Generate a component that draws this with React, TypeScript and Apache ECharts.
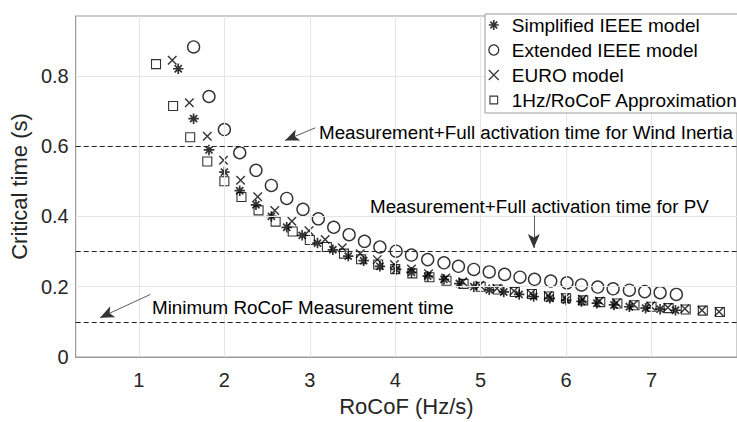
import React, { useEffect, useRef } from 'react';
import * as echarts from 'echarts';

const xTicks = [1, 2, 3, 4, 5, 6, 7];
const yTicks = [0, 0.2, 0.4, 0.6, 0.8];
const refLines = [0.6, 0.3, 0.1];

const seriesNames = [
  'Simplified IEEE model',
  'Extended IEEE model',
  'EURO model',
  '1Hz/RoCoF Approximation',
];

const simplifiedX = [1.46, 1.64, 1.82, 2.0, 2.18, 2.37, 2.55, 2.73, 2.91, 3.09, 3.27, 3.45, 3.63, 3.82, 4.01, 4.19, 4.38, 4.57, 4.75, 4.92, 5.1, 5.27, 5.45, 5.62, 5.81, 6.0, 6.18, 6.36, 6.56, 6.74, 6.93, 7.1, 7.28];
const simplifiedY = [0.82, 0.678, 0.589, 0.526, 0.473, 0.433, 0.4, 0.369, 0.346, 0.324, 0.305, 0.287, 0.274, 0.258, 0.249, 0.241, 0.23, 0.221, 0.209, 0.2, 0.191, 0.185, 0.178, 0.172, 0.167, 0.162, 0.158, 0.153, 0.148, 0.143, 0.139, 0.136, 0.133];

const extendedX = [1.64, 1.82, 2.0, 2.18, 2.37, 2.55, 2.73, 2.92, 3.1, 3.28, 3.46, 3.64, 3.82, 4.01, 4.19, 4.38, 4.57, 4.74, 4.92, 5.1, 5.28, 5.46, 5.63, 5.82, 6.01, 6.18, 6.37, 6.55, 6.74, 6.92, 7.1, 7.29];
const extendedY = [0.882, 0.741, 0.647, 0.581, 0.531, 0.488, 0.451, 0.42, 0.393, 0.369, 0.348, 0.329, 0.313, 0.301, 0.29, 0.277, 0.268, 0.258, 0.249, 0.242, 0.235, 0.227, 0.221, 0.216, 0.211, 0.205, 0.199, 0.194, 0.19, 0.186, 0.183, 0.178];

const euroX = [1.39, 1.59, 1.8, 1.99, 2.19, 2.39, 2.59, 2.79, 2.99, 3.18, 3.38, 3.59, 3.79, 3.99, 4.19, 4.39, 4.59, 4.79, 4.99, 5.19, 5.39, 5.59, 5.79, 5.99, 6.19, 6.39, 6.59, 6.79, 6.99, 7.19, 7.39, 7.59, 7.79];
const euroY = [0.844, 0.723, 0.628, 0.56, 0.503, 0.456, 0.417, 0.386, 0.359, 0.334, 0.311, 0.294, 0.277, 0.263, 0.25, 0.237, 0.225, 0.214, 0.204, 0.195, 0.188, 0.181, 0.175, 0.169, 0.164, 0.159, 0.154, 0.149, 0.145, 0.141, 0.137, 0.133, 0.129];

const approxX = [1.2, 1.4, 1.6, 1.8, 2.0, 2.2, 2.4, 2.6, 2.8, 3.0, 3.2, 3.4, 3.6, 3.8, 4.0, 4.2, 4.4, 4.6, 4.8, 5.0, 5.2, 5.4, 5.6, 5.8, 6.0, 6.2, 6.4, 6.6, 6.8, 7.0, 7.2, 7.4, 7.6, 7.8];
const approxY = [0.833, 0.714, 0.625, 0.556, 0.5, 0.455, 0.417, 0.385, 0.357, 0.333, 0.313, 0.294, 0.278, 0.263, 0.25, 0.238, 0.227, 0.217, 0.208, 0.2, 0.192, 0.185, 0.179, 0.172, 0.167, 0.161, 0.156, 0.152, 0.147, 0.143, 0.139, 0.135, 0.132, 0.128];

const annotationTexts = [
  'Measurement+Full activation time for Wind Inertia',
  'Measurement+Full activation time for PV',
  'Minimum RoCoF Measurement time',
];
// arrow start / tip in data coordinates
const arrowFrom = [[3.065, 0.652], [5.622, 0.4025], [1.134, 0.178]];
const arrowTo = [[2.711, 0.616], [5.622, 0.31], [0.545, 0.112]];

const FONT = 'Liberation Sans, Arial, Helvetica, sans-serif';
const ASTERISK = 'path://M5,0L5,10M0,5L10,5M1.6,1.6L8.4,8.4M8.4,1.6L1.6,8.4';
const CROSS = 'path://M0,0L10,10M10,0L0,10';
const SMALL_SQUARE = 'path://M-1.5,-1.5M11.5,11.5M0,0L10,0L10,10L0,10Z';

const zip = (xs: number[], ys: number[]) => xs.map((x, i) => [x, ys[i]]);

const hollow = { color: 'transparent', borderColor: '#000', borderWidth: 1.4 };

export default function App() {
  const ref = useRef<HTMLDivElement>(null);
  useEffect(() => {
    if (!ref.current) return;
    const chart = echarts.init(ref.current, undefined, { renderer: 'svg' });
    const option: any = {
      animation: false,
      backgroundColor: '#fff',
      textStyle: { fontFamily: FONT },
      grid: {
        left: 73,
        top: 16,
        bottom: 62,
        right: -7,
        show: true,
        borderColor: '#9a9a9a',
        borderWidth: 1,
        containLabel: false,
      },
      xAxis: {
        type: 'value',
        min: 0.26,
        max: 8,
        name: 'RoCoF (Hz/s)',
        nameLocation: 'middle',
        nameGap: 38,
        nameTextStyle: { fontSize: 22, color: '#262626', fontFamily: FONT },
        axisLine: { show: true, lineStyle: { color: '#9a9a9a' } },
        axisTick: { show: true, inside: true, length: 5, customValues: xTicks, lineStyle: { color: '#9a9a9a' } },
        axisLabel: { customValues: xTicks, fontSize: 20, color: '#262626', margin: 13, fontFamily: FONT },
        splitLine: { show: false },
      },
      yAxis: {
        type: 'value',
        min: 0,
        max: 0.97,
        name: 'Critical time (s)',
        nameLocation: 'middle',
        nameGap: 44,
        nameTextStyle: { fontSize: 22, color: '#262626', fontFamily: FONT },
        axisLine: { show: true, lineStyle: { color: '#9a9a9a' } },
        axisTick: { show: true, inside: true, length: 5, customValues: yTicks, lineStyle: { color: '#9a9a9a' } },
        axisLabel: { customValues: yTicks, fontSize: 20, color: '#262626', margin: 7, fontFamily: FONT },
        splitLine: { show: false },
      },
      legend: {
        orient: 'vertical',
        left: 485,
        top: 14,
        z: 100,
        padding: [1, 40, 3, 3],
        itemGap: 5,
        itemWidth: 14,
        itemHeight: 10,
        backgroundColor: '#fff',
        borderColor: '#9a9a9a',
        borderWidth: 1,
        borderRadius: 0,
        textStyle: { fontSize: 19, color: '#000', fontFamily: FONT, lineHeight: 20, padding: [0, 0, 0, 6] },
        data: [
          { name: seriesNames[0], icon: ASTERISK, itemStyle: { ...hollow, borderWidth: 1.6 } },
          { name: seriesNames[1], icon: 'circle', itemStyle: { ...hollow, borderWidth: 1.3 } },
          { name: seriesNames[2], icon: CROSS, itemStyle: { ...hollow, borderWidth: 1.2 } },
          { name: seriesNames[3], icon: SMALL_SQUARE, itemStyle: { ...hollow, borderWidth: 1.1 } },
        ],
      },
      graphic: [
        { type: 'text', x: 319, y: 132, z: 50, style: { text: annotationTexts[0], fontSize: 18.8, fontFamily: FONT, fill: '#000', align: 'left', verticalAlign: 'middle' } },
        { type: 'text', x: 370, y: 206, z: 50, style: { text: annotationTexts[1], fontSize: 18.8, fontFamily: FONT, fill: '#000', align: 'left', verticalAlign: 'middle' } },
        { type: 'text', x: 152, y: 307, z: 50, style: { text: annotationTexts[2], fontSize: 18.8, fontFamily: FONT, fill: '#000', align: 'left', verticalAlign: 'middle' } },
      ],
      series: [
        {
          name: 'grid',
          type: 'scatter',
          data: [],
          z: 0,
          silent: true,
          markLine: {
            silent: true,
            symbol: 'none',
            label: { show: false },
            lineStyle: { color: '#e6e6e6', width: 1, type: 'solid' },
            data: [
              ...xTicks.map((v) => ({ xAxis: v })),
              ...yTicks.filter((v) => v > 0).map((v) => ({ yAxis: v })),
            ],
          },
        },
        {
          name: 'refs',
          type: 'scatter',
          data: [],
          z: 1,
          silent: true,
          markLine: {
            silent: true,
            symbol: 'none',
            label: { show: false },
            lineStyle: { color: '#222', width: 1, type: [5, 3] },
            data: refLines.map((v) => ({ yAxis: v })),
          },
        },
        {
          name: 'arrows',
          type: 'scatter',
          data: [],
          z: 1,
          silent: true,
          markLine: {
            silent: true,
            label: { show: false },
            symbol: ['none', 'arrow'],
            symbolSize: [9, 14],
            lineStyle: { color: '#333', width: 0.8, type: 'solid' },
            data: arrowFrom.map((f, i) => [{ coord: f }, { coord: arrowTo[i] }]),
          },
        },
        {
          name: seriesNames[0],
          type: 'scatter',
          symbol: ASTERISK,
          symbolSize: 10.5,
          itemStyle: { ...hollow, borderWidth: 1.7 },
          data: zip(simplifiedX, simplifiedY),
          z: 3,
        },
        {
          name: seriesNames[1],
          type: 'scatter',
          symbol: 'circle',
          symbolSize: 12,
          itemStyle: { ...hollow, borderWidth: 1.4 },
          data: zip(extendedX, extendedY),
          z: 3,
        },
        {
          name: seriesNames[2],
          type: 'scatter',
          symbol: CROSS,
          symbolSize: 8.5,
          itemStyle: { ...hollow, borderWidth: 1.4 },
          data: zip(euroX, euroY),
          z: 3,
        },
        {
          name: seriesNames[3],
          type: 'scatter',
          symbol: 'rect',
          symbolSize: 9,
          itemStyle: { ...hollow, borderWidth: 1.1 },
          data: zip(approxX, approxY),
          z: 3,
        },
      ],
    };
    chart.setOption(option);
    return () => chart.dispose();
  }, []);
  return <div ref={ref} style={{ width: 737, height: 422, position: 'absolute', left: 0, top: 0 }} />;
}
